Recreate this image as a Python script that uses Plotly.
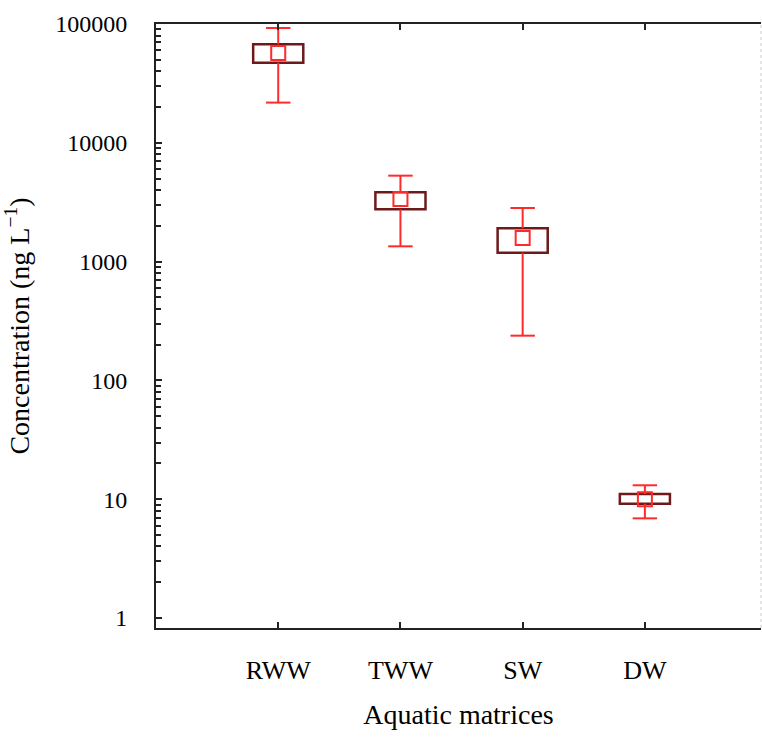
import plotly.graph_objects as go

# Concentration summaries per aquatic matrix (ng/L)
categories = ["RWW", "TWW", "SW", "DW"]
positions = [1, 2, 3, 4]
minimum = [21800, 1345, 238, 6.9]
q1 = [47200, 2755, 1189, 9.17]
median = [57000, 3365, 1580, 10.0]
q3 = [67500, 3830, 1906, 11.06]
maximum = [92500, 5290, 2826, 13.1]

y_tick_vals = [1, 10, 100, 1000, 10000, 100000]
y_tick_text = ["1", "10", "100", "1000", "10000", "100000"]

FONT = "Liberation Serif, Times New Roman, serif"
BOX_COLOR = "#6e1a1a"
WHISKER_COLOR = "#ff2a2a"
BOX_WIDTH = 0.41
CAP_HALF = 0.1

# whisker segments (vertical stems + caps), separated by None
wx, wy = [], []
for p, lo, a, b, hi in zip(positions, minimum, q1, q3, maximum):
    wx += [p, p, None, p - CAP_HALF, p + CAP_HALF, None]
    wy += [b, hi, None, hi, hi, None]
    wx += [p, p, None, p - CAP_HALF, p + CAP_HALF, None]
    wy += [a, lo, None, lo, lo, None]

fig = go.Figure()

# interquartile boxes
fig.add_trace(go.Bar(
    x=positions,
    y=[b - a for a, b in zip(q1, q3)],
    base=q1,
    width=BOX_WIDTH,
    marker=dict(color="white", line=dict(color=BOX_COLOR, width=2.5)),
    hoverinfo="skip",
    showlegend=False,
))

# whiskers
fig.add_trace(go.Scatter(
    x=wx, y=wy, mode="lines",
    line=dict(color=WHISKER_COLOR, width=2),
    hoverinfo="skip", showlegend=False,
))

# central value markers
fig.add_trace(go.Scatter(
    x=positions, y=median, mode="markers",
    marker=dict(symbol="square-open", size=14, color=WHISKER_COLOR,
                line=dict(width=2, color=WHISKER_COLOR)),
    showlegend=False,
))

minor_vals = [m * 10 ** e for e in range(0, 5) for m in range(2, 10)]

fig.update_layout(
    width=762, height=737,
    margin=dict(l=156, r=1, t=24, b=109),
    paper_bgcolor="white", plot_bgcolor="white",
    font=dict(family=FONT, color="black"),
    showlegend=False,
    xaxis=dict(
        range=[0, 4.95],
        tickvals=positions,
        ticktext=categories,
        ticks="inside", ticklen=6, tickwidth=2, tickcolor="#222",
        showline=True, linecolor="#222", linewidth=2, mirror="allticks",
        showgrid=False, zeroline=False,
        tickfont=dict(family=FONT, size=26),
        ticklabelstandoff=18,
        title=dict(text="Aquatic matrices", font=dict(family=FONT, size=28), standoff=20),
    ),
    yaxis=dict(
        type="log",
        range=[-0.084, 5.0],
        tickvals=y_tick_vals,
        ticktext=y_tick_text,
        ticks="inside", ticklen=6, tickwidth=2, tickcolor="#222",
        minor=dict(tickvals=minor_vals, ticks="inside", ticklen=5, tickwidth=1.5,
                   tickcolor="#222", showgrid=False),
        showline=True, linecolor="#222", linewidth=2,
        showgrid=False, zeroline=False,
        tickfont=dict(family=FONT, size=24),
        ticklabelstandoff=22,
        title=dict(text="Concentration (ng L<sup>−1</sup>)", font=dict(family=FONT, size=28),
                   standoff=20),
    ),
    shapes=[dict(type="line", xref="paper", yref="paper", x0=1, x1=1, y0=0, y1=1,
                 line=dict(color="#cccccc", width=1, dash="dot"))],
)

fig.write_html("out.html")
